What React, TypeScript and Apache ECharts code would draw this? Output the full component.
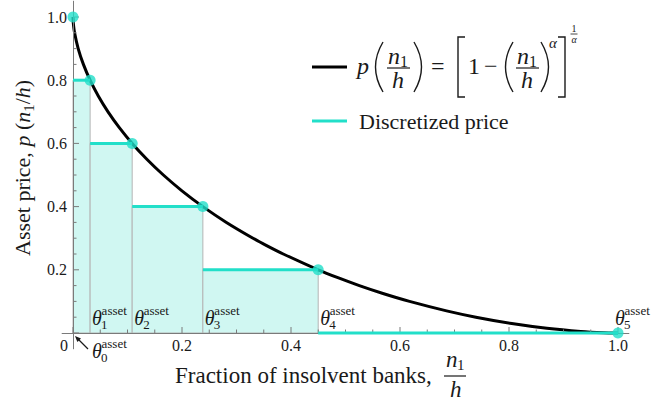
import React, { useEffect, useRef } from 'react';
import * as echarts from 'echarts';

// ---------- data ----------
// thresholds θ0..θ5 on the horizontal axis
const thresholds = [0, 0.0314, 0.1086, 0.2383, 0.4499, 1.0];
// discretized price levels at each threshold
const priceLevels = [1.0, 0.8, 0.6, 0.4, 0.2, 0.0];
// continuous price curve p(n1/h)
const curveX = [0, 0.0001, 0.0006, 0.0029, 0.0095, 0.0191, 0.0314, 0.0464, 0.0643, 0.085, 0.1086, 0.1355, 0.1658, 0.1999, 0.2383, 0.2815, 0.3303, 0.3571, 0.3858, 0.4499, 0.486, 0.5254, 0.5688, 0.6175, 0.6854, 0.7393, 0.8051, 0.8695, 0.9316, 0.9737, 1.0];
const curveY = [1.0, 0.995, 0.98, 0.95, 0.9, 0.85, 0.8, 0.75, 0.7, 0.65, 0.6, 0.55, 0.5, 0.45, 0.4, 0.35, 0.3, 0.275, 0.25, 0.2, 0.175, 0.15, 0.125, 0.1, 0.07, 0.05, 0.03, 0.015, 0.005, 0.001, 0.0];
// tick labels
const xTickValues = [0, 0.2, 0.4, 0.6, 0.8, 1.0];
const yTickValues = [0.2, 0.4, 0.6, 0.8, 1.0];
const minorTickValues = [0.05, 0.1, 0.15, 0.25, 0.3, 0.35, 0.45, 0.5, 0.55, 0.65, 0.7, 0.75, 0.85, 0.9, 0.95];

// ---------- styles ----------
const SERIF = '"Liberation Serif", "Times New Roman", serif';
const TEAL = '#22dfc9';
const FILL = '#d0f7f2';
const EDGE = '#b4b4b4';
const AXIS = '#7a7a7a';
const INK = '#1a1a1a';

const txt = (x: number, y: number, text: string, size: number, italic = false, extra: any = {}) => ({
  type: 'text',
  x,
  y,
  silent: true,
  style: {
    text,
    fontSize: size,
    fontFamily: SERIF,
    fontStyle: italic ? 'italic' : 'normal',
    fill: INK,
    align: 'left',
    verticalAlign: 'middle',
    ...extra,
  },
});

const seg = (x1: number, y1: number, x2: number, y2: number, w = 1.2, color = INK) => ({
  type: 'line',
  silent: true,
  shape: { x1, y1, x2, y2 },
  style: { stroke: color, lineWidth: w },
});

const paren = (x: number, cx: number) => ({
  type: 'bezierCurve',
  silent: true,
  shape: { x1: x, y1: 42, x2: x, y2: 92, cpx1: cx, cpy1: 67 },
  style: { stroke: INK, lineWidth: 1.4, fill: null },
});

const bracket = (pts: number[][]) => ({
  type: 'polyline',
  silent: true,
  shape: { points: pts },
  style: { stroke: INK, lineWidth: 1.4, fill: null },
});

const thetaGroup = (x: number, y: number, sub: string) => ({
  type: 'group',
  x,
  y,
  children: [
    { type: 'text', x: 0, y: 0, style: { text: 'θ', fontSize: 20, fontFamily: SERIF, fontStyle: 'italic', fill: INK, align: 'left', verticalAlign: 'middle' } },
    { type: 'text', x: 9.5, y: -7.5, style: { text: 'asset', fontSize: 13, fontFamily: SERIF, fill: INK, align: 'left', verticalAlign: 'middle' } },
    { type: 'text', x: 9, y: 6, style: { text: sub, fontSize: 13, fontFamily: SERIF, fill: INK, align: 'left', verticalAlign: 'middle' } },
  ],
});

export default function App() {
  const ref = useRef<HTMLDivElement>(null);

  useEffect(() => {
    if (!ref.current) return;
    const chart = echarts.init(ref.current, undefined, { renderer: 'svg' });

    const rectData = thresholds.slice(0, 4).map((t, i) => [t, thresholds[i + 1], priceLevels[i + 1]]);
    const stepData = thresholds.slice(0, 5).map((t, i) => [t, thresholds[i + 1], priceLevels[i + 1]]);
    const dotData = thresholds.map((t, i) => [t, priceLevels[i]]);
    const curveData = curveX.map((x, i) => [x, curveY[i]]);
    // [value, isMajor]
    const tickData = [...xTickValues.map((v) => [v, 1]), ...minorTickValues.map((v) => [v, 0])];

    // y-axis title pieces (local frame, baseline at y=0)
    const yt = -7.7;
    const yTitle = {
      type: 'group',
      x: 30,
      y: 168,
      rotation: Math.PI / 2,
      children: [
        txt(-88, yt, 'Asset price, ', 22),
        txt(21.4, yt, 'p', 22, true),
        txt(37.9, yt, '(', 22),
        txt(45.2, yt, 'n', 22, true),
        txt(56.2, 4 - 5.25, '1', 15),
        txt(63.7, yt, '/', 22),
        txt(69.8, yt, 'h', 22, true),
        txt(80.8, yt, ')', 22),
      ],
    };

    const labelStyle = { fontSize: 16, fontFamily: SERIF, fill: INK };

    const option: any = {
      animation: false,
      backgroundColor: '#ffffff',
      grid: { left: 62.1, top: 1.2, width: 566.8, height: 347.6 },
      xAxis: {
        type: 'value',
        min: -0.02,
        max: 1.02,
        z: 5,
        axisLine: { show: true, onZero: true, lineStyle: { color: AXIS, width: 1 } },
        axisTick: { show: false },
        axisLabel: { show: false },
        splitLine: { show: false },
      },
      yAxis: {
        type: 'value',
        min: -0.05,
        max: 1.05,
        z: 5,
        axisLine: { show: true, onZero: true, lineStyle: { color: AXIS, width: 1 } },
        axisTick: { show: false },
        axisLabel: { show: false },
        splitLine: { show: false },
      },
      series: [
        {
          type: 'custom',
          name: 'bins',
          coordinateSystem: 'cartesian2d',
          silent: true,
          z: 2,
          data: rectData,
          encode: { x: [0, 1], y: 2 },
          renderItem: (params: any, api: any) => {
            const a = api.coord([api.value(0), api.value(2)]);
            const b = api.coord([api.value(1), 0]);
            return {
              type: 'rect',
              shape: { x: a[0], y: a[1], width: b[0] - a[0], height: b[1] - a[1] },
              style: { fill: FILL, stroke: EDGE, lineWidth: 1 },
            };
          },
        },
        {
          type: 'line',
          name: 'curve',
          data: curveData,
          showSymbol: false,
          symbol: 'none',
          smooth: 0.2,
          z: 3,
          lineStyle: { color: '#000000', width: 3 },
          silent: true,
        },
        {
          type: 'custom',
          name: 'ticks',
          coordinateSystem: 'cartesian2d',
          silent: true,
          clip: false,
          z: 5,
          data: tickData,
          encode: { x: 0 },
          renderItem: (params: any, api: any) => {
            const v = api.value(0);
            const len = api.value(1) === 1 ? 6 : 3.5;
            const px = api.coord([v, 0]);
            const py = api.coord([0, v]);
            return {
              type: 'group',
              children: [
                { type: 'line', shape: { x1: px[0], y1: px[1], x2: px[0], y2: px[1] - len }, style: { stroke: AXIS, lineWidth: 1 } },
                { type: 'line', shape: { x1: py[0], y1: py[1], x2: py[0] + len, y2: py[1] }, style: { stroke: AXIS, lineWidth: 1 } },
              ],
            };
          },
        },
        {
          type: 'custom',
          name: 'xTickLabels',
          coordinateSystem: 'cartesian2d',
          silent: true,
          clip: false,
          z: 5,
          data: xTickValues.map((v) => [v, 0]),
          renderItem: (params: any, api: any) => {
            const v = api.value(0);
            const p = api.coord([v, 0]);
            return {
              type: 'text',
              x: p[0] + (v === 0 ? -9 : 0),
              y: p[1] + 12.5,
              style: { ...labelStyle, text: v === 0 ? '0' : v.toFixed(1), align: 'center', verticalAlign: 'middle' },
            };
          },
        },
        {
          type: 'custom',
          name: 'yTickLabels',
          coordinateSystem: 'cartesian2d',
          silent: true,
          clip: false,
          z: 5,
          data: yTickValues.map((v) => [0, v]),
          renderItem: (params: any, api: any) => {
            const v = api.value(1);
            const p = api.coord([0, v]);
            return {
              type: 'text',
              x: p[0] - 6,
              y: p[1],
              style: { ...labelStyle, text: v.toFixed(1), align: 'right', verticalAlign: 'middle' },
            };
          },
        },
        {
          type: 'custom',
          name: 'steps',
          coordinateSystem: 'cartesian2d',
          silent: true,
          clip: false,
          z: 6,
          data: stepData,
          encode: { x: [0, 1], y: 2 },
          renderItem: (params: any, api: any) => {
            const a = api.coord([api.value(0), api.value(2)]);
            const b = api.coord([api.value(1), api.value(2)]);
            return {
              type: 'line',
              shape: { x1: a[0], y1: a[1], x2: b[0], y2: b[1] },
              style: { stroke: TEAL, lineWidth: 3 },
            };
          },
        },
        {
          type: 'scatter',
          name: 'points',
          data: dotData,
          symbol: 'circle',
          symbolSize: 11,
          z: 8,
          clip: false,
          silent: true,
          itemStyle: { color: TEAL },
        },
        {
          type: 'custom',
          name: 'thetaLabels',
          coordinateSystem: 'cartesian2d',
          silent: true,
          clip: false,
          z: 9,
          data: thresholds.map((t, i) => [t, i]),
          encode: { x: 0 },
          renderItem: (params: any, api: any) => {
            const i = api.value(1);
            const p = api.coord([api.value(0), 0]);
            if (i === 0) {
              return {
                type: 'group',
                children: [
                  thetaGroup(p[0] + 19, p[1] + 18, '0'),
                  { type: 'line', shape: { x1: p[0] + 15, y1: p[1] + 16, x2: p[0] + 5, y2: p[1] + 6 }, style: { stroke: INK, lineWidth: 1.2 } },
                  {
                    type: 'polygon',
                    shape: { points: [[p[0] + 2, p[1] + 3], [p[0] + 8, p[1] + 5.4], [p[0] + 4.4, p[1] + 9]] },
                    style: { fill: INK },
                  },
                ],
              };
            }
            const dx = i === 5 ? -3 : 2;
            return thetaGroup(p[0] + dx, p[1] - 15, String(i));
          },
        },
      ],
      graphic: [
        // legend: analytic price curve
        seg(312, 67, 347, 67, 3, '#000000'),
        txt(357, 65.6, 'p', 24, true),
        paren(383, 368),
        txt(388, 55.6, 'n', 24, true),
        txt(400, 61.4, '1', 16),
        seg(387, 68, 410, 68, 1.2),
        txt(392, 79.6, 'h', 24, true),
        paren(414, 429),
        txt(431, 66, '=', 24),
        bracket([[465, 37], [458, 37], [458, 97], [465, 97]]),
        txt(468, 65.6, '1', 24),
        txt(484, 65.6, '−', 24),
        paren(513, 498),
        txt(517, 55.6, 'n', 24, true),
        txt(529, 61.4, '1', 16),
        seg(516, 68, 539, 68, 1.2),
        txt(521, 79.6, 'h', 24, true),
        paren(541, 556),
        txt(549, 43, 'α', 15, true),
        bracket([[558, 37], [565, 37], [565, 97], [558, 97]]),
        txt(574, 28.5, '1', 10, false, { align: 'center' }),
        seg(570.5, 34, 577.5, 34, 0.8),
        txt(574, 39.5, 'α', 10, true, { align: 'center' }),
        // legend: discretized price
        seg(312, 121, 347, 121, 3, TEAL),
        txt(359, 121, 'Discretized price', 22),
        // x-axis title
        txt(175, 375.3, 'Fraction of insolvent banks,', 23),
        txt(446, 359.3, 'n', 23, true),
        txt(457, 365, '1', 15),
        seg(444, 376, 466, 376, 1.2),
        txt(450, 389.3, 'h', 23, true),
        // y-axis title
        yTitle,
      ],
    };

    chart.setOption(option);
    return () => chart.dispose();
  }, []);

  return (
    <div
      ref={ref}
      style={{ position: 'fixed', left: 0, top: 0, width: 651, height: 404, background: '#ffffff' }}
    />
  );
}
